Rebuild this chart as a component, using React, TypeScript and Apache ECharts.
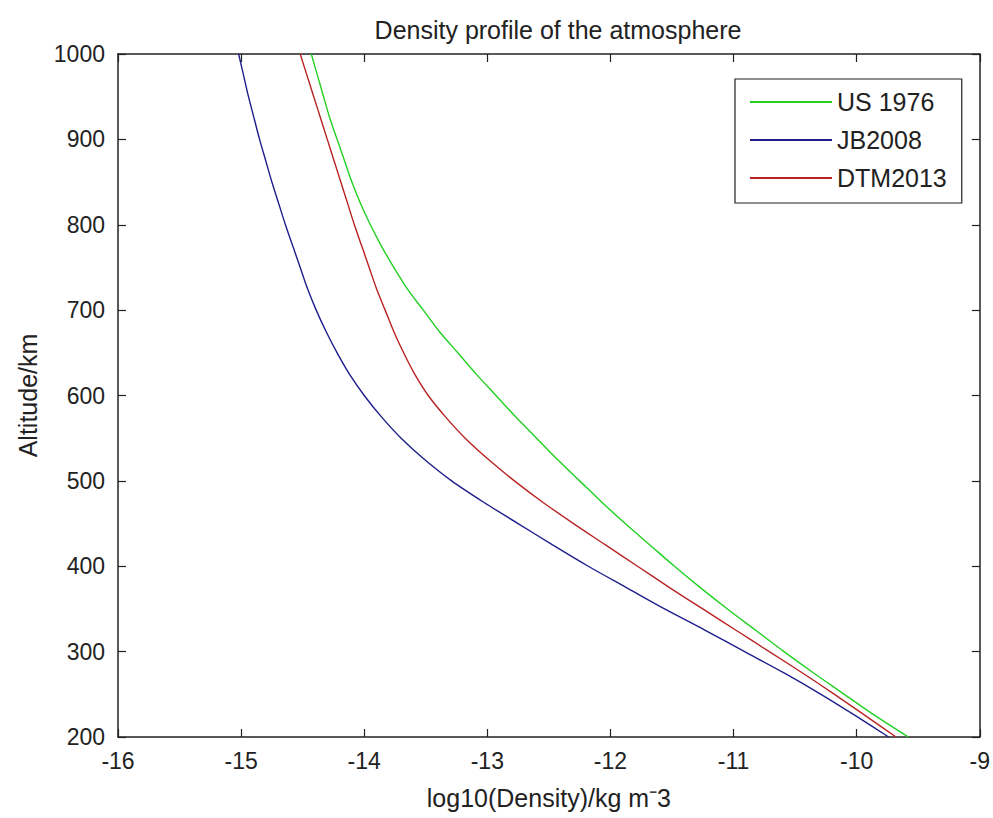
import React, { useEffect, useRef } from "react";
import * as echarts from "echarts";

// Altitude (km) sample points, every 25 km
const altitudes = [
  200, 225, 250, 275, 300, 325, 350, 375, 400, 425, 450, 475, 500, 525, 550, 575, 600,
  625, 650, 675, 700, 725, 750, 775, 800, 825, 850, 875, 900, 925, 950, 975, 1000,
];

// log10(density)
const us1976 = [
  -9.58, -9.85, -10.1, -10.35, -10.59, -10.82, -11.05, -11.27, -11.48, -11.68, -11.88, -12.07, -12.25, -12.43, -12.6, -12.77, -12.93,
  -13.09, -13.24, -13.39, -13.52, -13.65, -13.76, -13.86, -13.95, -14.03, -14.1, -14.16, -14.22, -14.28, -14.33, -14.38, -14.43,
];
const jb2008 = [
  -9.74, -10.01, -10.29, -10.59, -10.91, -11.23, -11.56, -11.87, -12.18, -12.47, -12.75, -13.03, -13.29, -13.51, -13.7, -13.86, -14.0,
  -14.12, -14.22, -14.31, -14.39, -14.46, -14.52, -14.58, -14.64, -14.695, -14.75, -14.8, -14.85, -14.895, -14.94, -14.98, -15.02,
];
const dtm2013 = [
  -9.68, -9.93, -10.18, -10.44, -10.71, -10.98, -11.25, -11.52, -11.78, -12.04, -12.3, -12.55, -12.78, -12.99, -13.18, -13.34, -13.48,
  -13.59, -13.68, -13.76, -13.83, -13.9, -13.96, -14.02, -14.08, -14.135, -14.19, -14.245, -14.3, -14.355, -14.41, -14.465, -14.52,
];

const seriesNames = ["US 1976", "JB2008", "DTM2013"];
const seriesColors = ["#22d022", "#1e1e8c", "#b82222"];

const titleText = "Density profile of the atmosphere";
const xName = "log10(Density)/kg m\u207B3";
const yName = "Altitude/km";

const FONT = "'Liberation Sans', Arial, Helvetica, sans-serif";
const INK = "#222222";

const pairs = (xs: number[]) => xs.map((x, i) => [x, altitudes[i]]);

export default function App() {
  const ref = useRef<HTMLDivElement>(null);

  useEffect(() => {
    if (!ref.current) return;
    const chart = echarts.init(ref.current, undefined, { renderer: "svg" });

    const axisLine = { show: true, onZero: false, lineStyle: { color: INK, width: 1.5 } };
    const axisTick = { show: true, inside: true, length: 8, lineStyle: { color: INK, width: 1.2 } };

    const dataSets = [us1976, jb2008, dtm2013];

    chart.setOption({
      animation: false,
      backgroundColor: "#ffffff",
      textStyle: { fontFamily: FONT },
      title: {
        text: titleText,
        left: 553,
        top: 12,
        textAlign: "center",
        textStyle: { fontSize: 25, fontWeight: "normal", color: INK, fontFamily: FONT },
      },
      grid: { left: 118, top: 54, width: 865, height: 683, containLabel: false },
      legend: {
        orient: "vertical",
        left: 735,
        top: 79,
        padding: [10, 15, 12, 15],
        backgroundColor: "#ffffff",
        borderColor: INK,
        borderWidth: 1.2,
        borderRadius: 0,
        icon: "rect",
        itemWidth: 82,
        itemHeight: 2,
        itemGap: 12,
        textStyle: { fontSize: 25, color: INK, lineHeight: 26, fontFamily: FONT },
        data: seriesNames,
      },
      xAxis: [
        {
          type: "value",
          min: -16,
          max: -9,
          interval: 1,
          position: "bottom",
          axisLine,
          axisTick,
          splitLine: { show: false },
          axisLabel: { fontSize: 23, color: INK, margin: 12, fontFamily: FONT, formatter: (v: number) => String(v) },
          name: xName,
          nameLocation: "middle",
          nameGap: 48,
          nameTextStyle: { fontSize: 25, color: INK, fontFamily: FONT },
        },
        {
          type: "value",
          min: -16,
          max: -9,
          interval: 1,
          position: "top",
          axisLine,
          axisTick,
          splitLine: { show: false },
          axisLabel: { show: false },
        },
      ],
      yAxis: [
        {
          type: "value",
          min: 200,
          max: 1000,
          interval: 100,
          position: "left",
          axisLine,
          axisTick,
          splitLine: { show: false },
          axisLabel: { fontSize: 23, color: INK, margin: 13, fontFamily: FONT, formatter: (v: number) => String(v) },
          name: yName,
          nameLocation: "middle",
          nameGap: 78,
          nameTextStyle: { fontSize: 25, color: INK, fontFamily: FONT },
        },
        {
          type: "value",
          min: 200,
          max: 1000,
          interval: 100,
          position: "right",
          axisLine,
          axisTick,
          splitLine: { show: false },
          axisLabel: { show: false },
        },
      ],
      series: seriesNames.map((name, i) => ({
        type: "line",
        name,
        xAxisIndex: 0,
        yAxisIndex: 0,
        data: pairs(dataSets[i]),
        showSymbol: false,
        smooth: 0.3,
        lineStyle: { color: seriesColors[i], width: 1.4 },
        itemStyle: { color: seriesColors[i] },
      })),
    });

    return () => chart.dispose();
  }, []);

  return (
    <div
      ref={ref}
      style={{ position: "absolute", left: 0, top: 0, width: 993, height: 818, background: "#fff" }}
    />
  );
}
